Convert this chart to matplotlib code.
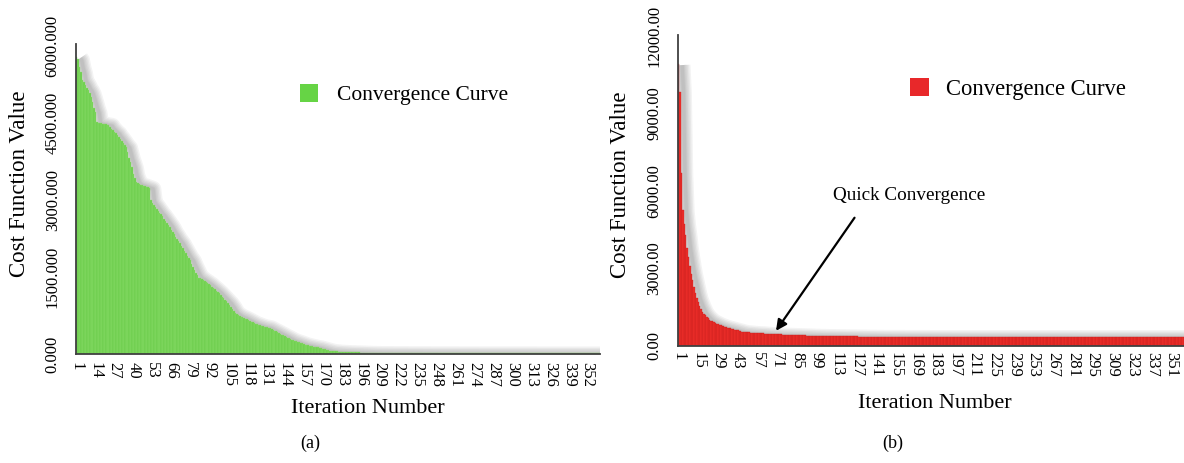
import numpy as np
import matplotlib
matplotlib.use("Agg")
import matplotlib.pyplot as plt
from matplotlib import transforms
from matplotlib.patches import Patch
from matplotlib.ticker import FormatStrFormatter

plt.rcParams["font.family"] = ["Liberation Serif", "DejaVu Serif"]

# cost per iteration
cost_a = [
    5790, 5750, 5600, 5500, 5340, 5300, 5250, 5190, 5150, 5090,
    5000, 4900, 4800, 4720, 4525, 4510, 4500, 4495, 4490, 4480,
    4475, 4470, 4465, 4420, 4390, 4360, 4330, 4310, 4260, 4230,
    4190, 4150, 4110, 4070, 4040, 3930, 3820, 3740, 3650, 3500,
    3420, 3350, 3330, 3310, 3300, 3290, 3280, 3270, 3260, 3250,
    3240, 3000, 2945, 2910, 2870, 2830, 2790, 2750, 2720, 2680,
    2640, 2600, 2560, 2520, 2475, 2420, 2370, 2330, 2280, 2240,
    2200, 2165, 2110, 2060, 2010, 1960, 1910, 1870, 1830, 1760,
    1700, 1640, 1580, 1530, 1490, 1480, 1460, 1440, 1420, 1400,
    1380, 1360, 1335, 1310, 1285, 1260, 1235, 1210, 1180, 1150,
    1120, 1090, 1060, 1030, 1000, 960, 920, 870, 830, 800,
    780, 760, 745, 730, 720, 705, 690, 675, 660, 645,
    630, 615, 600, 590, 580, 570, 560, 550, 540, 535,
    530, 525, 515, 500, 485, 470, 455, 440, 425, 410,
    395, 380, 365, 350, 335, 320, 305, 290, 275, 265,
    255, 245, 235, 225, 215, 205, 195, 185, 178, 170,
    163, 156, 150, 145, 140, 136, 130, 122, 114, 106,
    98, 90, 82, 75, 68, 62, 58, 55, 52, 50,
    48, 46, 44, 42, 40, 39, 38, 37, 36, 35,
    34, 33, 32, 31, 30, 29, 28, 27, 26, 25,
    24, 24, 23, 23, 22, 22, 21, 21, 20, 20,
    20, 20, 20, 19, 19, 19, 19, 19, 19, 19, 18, 18, 18, 18, 18,
    18, 18, 18, 17, 17, 17, 17, 17, 17, 17, 17, 16, 16, 16, 16,
    16, 16, 16, 16, 16, 15, 15, 15, 15, 15, 15, 15, 15, 15, 15,
    15, 15, 14, 14, 14, 14, 14, 14, 14, 14, 14, 14, 14, 14, 14,
    14, 14, 14, 14, 13, 13, 13, 13, 13, 13, 13, 13, 13, 13, 13,
    13, 13, 13, 13, 13, 13, 13, 13, 13, 13, 13, 13, 13, 13, 13,
    12, 12, 12, 12, 12, 12, 12, 12, 12, 12, 12, 12, 12, 12, 12,
    12, 12, 12, 12, 12, 12, 12, 12, 12, 12, 12, 12, 12, 12, 12,
    12, 12, 12, 12, 12, 12, 12, 12, 12, 12, 12, 12, 12, 12, 12,
    12, 12, 12, 12, 12, 12, 12, 12, 12, 12, 12, 12, 12, 12, 12,
]

cost_b = [
    10920, 9840, 6680, 5250, 4700, 4300, 3800, 3450, 3100, 2800,
    2550, 2300, 2050, 1850, 1700, 1560, 1440, 1330, 1250, 1180,
    1120, 1070, 1020, 980, 950, 920, 890, 865, 840, 815,
    795, 775, 755, 740, 720, 705, 695, 680, 665, 650,
    635, 620, 605, 590, 575, 560, 550, 540, 535, 530,
    525, 520, 515, 510, 505, 500, 500, 495, 495, 490,
    485, 480, 475, 470, 468, 465, 462, 460, 458, 455,
    452, 450, 448, 445, 442, 440, 438, 435, 432, 430,
    428, 426, 424, 422, 420, 418, 416, 414, 412, 410,
    408, 406, 404, 402, 400, 399, 398, 397, 396, 395,
    394, 393, 392, 391, 390, 389, 388, 387, 386, 385,
    384, 383, 382, 381, 380, 379, 378, 377, 376, 375,
    374, 373, 372, 371, 370, 370, 369, 368, 367, 366,
    366, 365, 364, 364, 363, 362, 362, 361, 360, 360,
    359, 359, 358, 358, 357, 357, 356, 356, 355, 355,
    355, 355, 354, 354, 354, 354, 354, 353, 353, 353, 353, 353, 353, 352, 352,
    352, 352, 352, 352, 352, 351, 351, 351, 351, 351, 351, 351, 351, 350, 350,
    350, 350, 350, 350, 350, 350, 350, 350, 349, 349, 349, 349, 349, 349, 349,
    349, 349, 349, 349, 348, 348, 348, 348, 348, 348, 348, 348, 348, 348, 348,
    348, 348, 348, 347, 347, 347, 347, 347, 347, 347, 347, 347, 347, 347, 347,
    347, 347, 347, 347, 347, 346, 346, 346, 346, 346, 346, 346, 346, 346, 346,
    346, 346, 346, 346, 346, 346, 346, 346, 346, 346, 346, 346, 346, 345, 345,
    345, 345, 345, 345, 345, 345, 345, 345, 345, 345, 345, 345, 345, 345, 345,
    345, 345, 345, 345, 345, 345, 345, 345, 345, 345, 345, 345, 345, 345, 345,
    345, 345, 345, 345, 345, 345, 345, 345, 345, 345, 345, 345, 345, 345, 345,
    345, 345, 345, 345, 345, 345, 345, 345, 345, 345, 345, 345, 345, 345, 345,
    345, 345, 345, 345, 345, 345, 345, 345, 345, 345, 345, 345, 345, 345, 345,
    345, 345, 345, 345, 345, 345, 345, 345, 345, 345, 345, 345, 345, 345, 345,
    345, 345, 345, 345, 345, 345, 345, 345, 345, 345, 345, 345, 345, 345, 345,
]

ticks_a = list(range(1, 353, 13))
ticks_b = list(range(1, 352, 14))
yticks_a = [0, 1500, 3000, 4500, 6000]
yticks_b = [0, 3000, 6000, 9000, 12000]

SPINE = "#404040"


def draw_panel(fig, ax, values, color, edge, ylim, xticks, yticks, yfmt, xpad):
    iters = np.arange(1, len(values) + 1)
    vals = np.array(values, dtype=float)

    # soft grey shadow behind the bar tops, built from stacked translucent strokes
    off = transforms.ScaledTranslation(2.5 / 72, -1.0 / 72, fig.dpi_scale_trans)
    for lw in (12, 10, 8, 6, 4, 2.5):
        ax.plot(iters, vals, color="#555555", lw=lw, alpha=0.07,
                transform=ax.transData + off, solid_joinstyle="round",
                solid_capstyle="butt", zorder=1)

    ax.bar(iters, vals, width=1.0, color=color, edgecolor=edge, linewidth=0.25, zorder=2)

    ax.set_xlim(0.5, len(values) + 0.5)
    ax.set_ylim(*ylim)
    ax.set_xticks(xticks)
    ax.set_xticklabels([str(t) for t in xticks], rotation=-90, fontsize=12)
    ax.set_yticks(yticks)
    ax.yaxis.set_major_formatter(FormatStrFormatter(yfmt))
    for lab in ax.get_yticklabels():
        lab.set_rotation(90)
        lab.set_va("center")
        lab.set_fontsize(12)
    ax.tick_params(axis="x", length=0, pad=xpad)
    ax.tick_params(axis="y", length=0, pad=11)

    for side in ("top", "right"):
        ax.spines[side].set_visible(False)
    for side in ("left", "bottom"):
        ax.spines[side].set_color(SPINE)
        ax.spines[side].set_linewidth(1.3)
        ax.spines[side].set_zorder(5)


fig = plt.figure(figsize=(11.84, 4.63), dpi=100)

ax_a = fig.add_axes([0.0642, 0.2354, 0.4426, 0.6696])
ax_b = fig.add_axes([0.5726, 0.2527, 0.4282, 0.6717])

draw_panel(fig, ax_a, cost_a, "#6ccd4c", "#8fe06f", (0, 6040), ticks_a, yticks_a, "%.3f", 6)
draw_panel(fig, ax_b, cost_b, "#ee2e2a", "#c81e1e", (0, 12030), ticks_b, yticks_b, "%.2f", 4.5)

ax_a.set_ylabel("Cost Function Value", fontsize=16.5, va="center")
ax_a.yaxis.set_label_coords(-0.107, 0.55)
ax_a.set_xlabel("Iteration Number", fontsize=16, va="center")
ax_a.xaxis.set_label_coords(0.557, -0.177)

ax_b.set_ylabel("Cost Function Value", fontsize=16.5, va="center")
ax_b.yaxis.set_label_coords(-0.114, 0.518)
ax_b.set_xlabel("Iteration Number", fontsize=16, va="center")
ax_b.xaxis.set_label_coords(0.507, -0.186)

ax_a.legend(handles=[Patch(facecolor="#66d445", edgecolor="none", label="Convergence Curve")],
            loc="center left", bbox_to_anchor=(0.2534, 0.795), bbox_transform=fig.transFigure,
            frameon=False, fontsize=15.5, borderpad=0, borderaxespad=0,
            handlelength=0.85, handleheight=0.85, handletextpad=0.85)
ax_b.legend(handles=[Patch(facecolor="#e8282a", edgecolor="none", label="Convergence Curve")],
            loc="center left", bbox_to_anchor=(0.7686, 0.8078), bbox_transform=fig.transFigure,
            frameon=False, fontsize=16.3, borderpad=0, borderaxespad=0,
            handlelength=0.85, handleheight=0.85, handletextpad=0.75)

ax_b.annotate("", xy=(69, 500), xytext=(127, 5050),
              arrowprops=dict(arrowstyle="-|>", color="black", lw=1.6, mutation_scale=16),
              zorder=6)
ax_b.text(165, 5830, "Quick Convergence", ha="center", va="center", fontsize=13.8)

fig.text(0.2618, 0.0432, "(a)", ha="center", va="center", fontsize=13)
fig.text(0.7542, 0.0432, "(b)", ha="center", va="center", fontsize=13)

fig.savefig("out.png", dpi=100)
